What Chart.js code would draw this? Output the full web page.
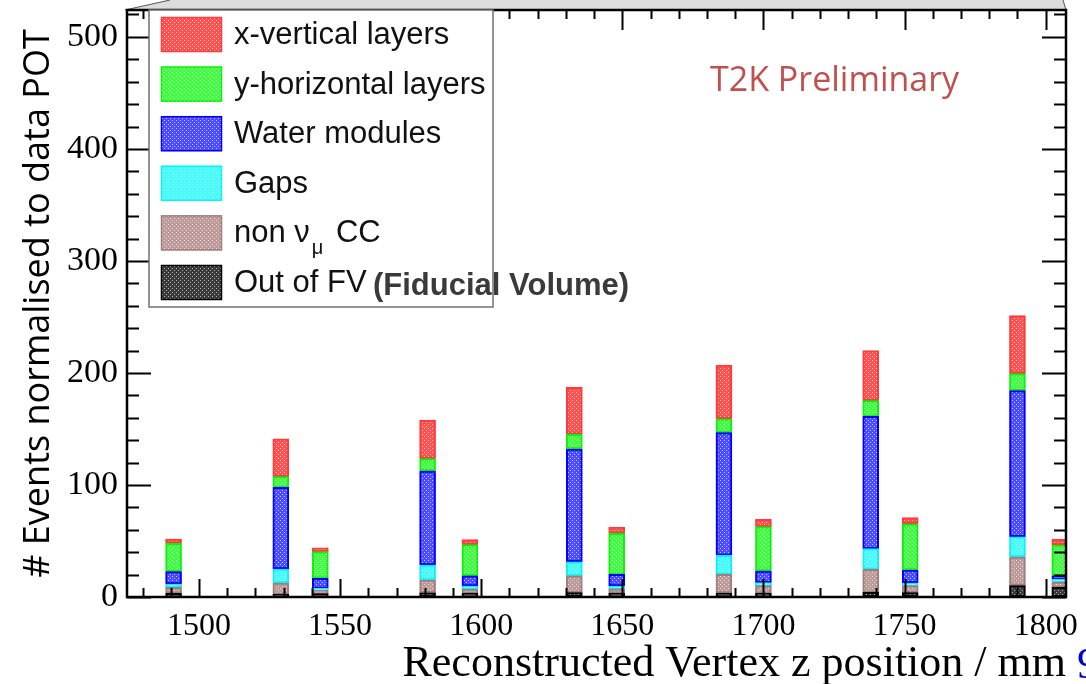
<!DOCTYPE html>
<html>
<head>
<meta charset="utf-8">
<script src="https://cdn.jsdelivr.net/npm/chart.js@4/dist/chart.umd.min.js"></script>
<style>
  html, body { margin: 0; padding: 0; background: #ffffff; }
  #wrap { width: 1086px; height: 684px; position: relative; }
</style>
</head>
<body>
<div id="wrap"><canvas id="c" width="1086" height="684"></canvas></div>
<script>
// Reconstructed vertex z position of each filled bin (mm)
const zPositions = [1491, 1529, 1543, 1581, 1596, 1633, 1648, 1686, 1700, 1738, 1752, 1790, 1805];

// Event counts per bin, one array per category (stacked bottom to top)
const outOfFV     = [3.2, 2.4, 3.0, 3.8, 3.3, 3.9, 3.3, 3.6, 3.3, 4.2, 3.9, 10.1, 8.6];
const nonNumuCC   = [5.4, 10.1, 3.0, 11.4, 3.8, 14.9, 4.1, 16.6, 6.8, 20.5, 6.2, 25.6, 4.8];
const gaps        = [3.0, 12.5, 1.7, 13.4, 2.7, 12.7, 2.4, 17.0, 2.7, 18.5, 2.4, 18.1, 2.4];
const waterMods   = [11.0, 72.9, 9.0, 83.9, 9.0, 100.6, 10.4, 109.5, 10.4, 118.1, 11.6, 130.4, 3.0];
const yHorizontal = [25.3, 9.5, 23.8, 11.0, 27.9, 13.1, 36.6, 12.3, 39.6, 14.0, 41.3, 15.2, 27.6];
const xVertical   = [3.9, 33.9, 3.5, 34.5, 4.5, 42.0, 5.7, 48.0, 6.5, 44.6, 5.4, 51.8, 5.1];

// Axis tick labels
const xTickLabels = [1500, 1550, 1600, 1650, 1700, 1750, 1800];
const yTickLabels = [0, 100, 200, 300, 400, 500];

// Dotted fill pattern like ROOT fill style
function dotPattern(base, dot) {
  const t = document.createElement('canvas');
  t.width = 4; t.height = 4;
  const g = t.getContext('2d');
  g.fillStyle = base; g.fillRect(0, 0, 4, 4);
  g.fillStyle = dot;
  g.fillRect(0, 0, 1, 1); g.fillRect(2, 2, 1, 1);
  return g.createPattern(t, 'repeat');
}

const series = [
  { label: 'Out of FV', values: outOfFV, base: '#3a3a3a', dot: '#b0b0b0', line: '#000000' },
  { label: 'non νμ CC', parts: ['non ν', 'μ', ' CC'], values: nonNumuCC, base: '#bc9a9a', dot: '#eadcdc', line: '#a07e7e' },
  { label: 'Gaps', values: gaps, base: '#40ffff', dot: '#d8ffff', line: '#10f0f0' },
  { label: 'Water modules', values: waterMods, base: '#4c4cff', dot: '#c8c8ff', line: '#0000ff' },
  { label: 'y-horizontal layers', values: yHorizontal, base: '#40ff40', dot: '#d0ffd0', line: '#10f010' },
  { label: 'x-vertical layers', values: xVertical, base: '#ff5050', dot: '#ffd8d8', line: '#ff3a3a' }
];

const datasets = series.map(s => ({
  label: s.label,
  parts: s.parts,
  data: zPositions.map((z, i) => ({ x: z, y: s.values[i] })),
  backgroundColor: dotPattern(s.base, s.dot),
  borderColor: s.line,
  borderWidth: 2,
  borderSkipped: false,
  barThickness: 16
}));

// Inward ROOT-style frame ticks, legend box and annotations
const frameDecor = {
  id: 'frameDecor',
  beforeDraw(chart) {
    const { ctx, chartArea: a } = chart;
    ctx.save();
    ctx.fillStyle = '#dcdcdc';
    ctx.beginPath();
    ctx.moveTo(a.left - 2, a.top);
    ctx.lineTo(a.left + 43, 0);
    ctx.lineTo(a.right - 3, 0);
    ctx.lineTo(a.right, a.top);
    ctx.closePath();
    ctx.fill();
    ctx.strokeStyle = '#555';
    ctx.lineWidth = 1;
    ctx.beginPath();
    ctx.moveTo(a.left - 2, a.top);
    ctx.lineTo(a.left + 43, 0);
    ctx.moveTo(a.right - 3, 0);
    ctx.lineTo(a.right, a.top);
    ctx.stroke();
    ctx.restore();
  },
  afterDatasetsDraw(chart) {
    const { ctx, chartArea: a, scales } = chart;
    const xs = scales.x, ys = scales.y;
    ctx.save();
    ctx.strokeStyle = '#000';
    ctx.lineWidth = 2;
    ctx.beginPath();
    for (let v = 0; v <= ys.max; v += 20) {
      const y = Math.round(ys.getPixelForValue(v)) + 0.5;
      const len = v % 100 === 0 ? 24 : 12;
      ctx.moveTo(a.left, y); ctx.lineTo(a.left + len, y);
      ctx.moveTo(a.right, y); ctx.lineTo(a.right - len, y);
    }
    for (let v = 1480; v <= xs.max; v += 10) {
      const x = Math.round(xs.getPixelForValue(v)) + 0.5;
      const len = v % 50 === 0 ? 18 : 9;
      ctx.moveTo(x, a.bottom); ctx.lineTo(x, a.bottom - len);
      ctx.moveTo(x, a.top); ctx.lineTo(x, a.top + (v % 50 === 0 ? 20 : 9));
    }
    ctx.stroke();
    ctx.lineWidth = 2.5;
    ctx.strokeRect(a.left, a.top, a.right - a.left, a.bottom - a.top);

    // Legend box
    const lx = a.left + 22, ly = a.top, lw = 344, lh = 297;
    ctx.fillStyle = '#ffffff';
    ctx.fillRect(lx, ly, lw, lh);
    ctx.strokeStyle = '#707070';
    ctx.lineWidth = 1.5;
    ctx.strokeRect(lx, ly, lw, lh);
    const items = chart.data.datasets.slice().reverse();
    items.forEach((ds, i) => {
      const sy = ly + 7 + i * 49.6;
      ctx.fillStyle = ds.backgroundColor;
      ctx.fillRect(lx + 12, sy, 61, 35);
      ctx.strokeStyle = ds.borderColor;
      ctx.lineWidth = 1.5;
      ctx.strokeRect(lx + 12.5, sy + 0.5, 60, 34);
      ctx.fillStyle = '#111';
      ctx.textBaseline = 'alphabetic';
      ctx.textAlign = 'left';
      const tx = lx + 85, ty = sy + 27;
      if (ds.parts) {
        ctx.font = '31px "Liberation Sans", Arial, sans-serif';
        ctx.fillText(ds.parts[0], tx, ty);
        let w = ctx.measureText(ds.parts[0]).width + 2;
        ctx.font = '20px "Liberation Sans", Arial, sans-serif';
        ctx.fillText(ds.parts[1], tx + w, ty + 12);
        w += ctx.measureText(ds.parts[1]).width + 4;
        ctx.font = '31px "Liberation Sans", Arial, sans-serif';
        ctx.fillText(ds.parts[2], tx + w, ty);
      } else {
        ctx.font = '31px "Liberation Sans", Arial, sans-serif';
        ctx.fillText(ds.label, tx, ty);
      }
    });

    // Annotations
    ctx.font = 'bold 31px "Liberation Sans", Arial, sans-serif';
    ctx.fillStyle = '#3a3a3a';
    ctx.fillText('(Fiducial Volume)', 373, 295);
    ctx.font = '34px "Open Sans", sans-serif';
    ctx.fillStyle = '#c0504d';
    ctx.fillText('T2K Preliminary', 710, 91);
    ctx.font = '44px "Liberation Serif", "Times New Roman", serif';
    ctx.fillStyle = '#0000cc';
    ctx.fillText('9', 1077, 678);
    ctx.restore();
  }
};

new Chart(document.getElementById('c'), {
  type: 'bar',
  data: { datasets },
  options: {
    responsive: false,
    animation: false,
    layout: { padding: { top: 10, right: 20, left: 0, bottom: 0 } },
    plugins: { legend: { display: false }, tooltip: { enabled: false } },
    scales: {
      x: {
        type: 'linear',
        stacked: true,
        offset: false,
        min: 1474.5,
        max: 1807.2,
        grid: { display: false, drawTicks: false, offset: false },
        border: { display: false },
        afterBuildTicks: s => { s.ticks = xTickLabels.map(v => ({ value: v })); },
        afterFit: s => { s.height = 87; s.paddingLeft = 0; s.paddingRight = 0; },
        ticks: {
          padding: 10,
          maxRotation: 0,
          autoSkip: false,
          color: '#000',
          font: { family: '"Liberation Serif", "Times New Roman", serif', size: 32 },
          callback: v => String(v)
        },
        title: {
          display: true,
          align: 'end',
          text: 'Reconstructed Vertex z position / mm',
          color: '#000',
          font: { family: '"Liberation Serif", "Times New Roman", serif', size: 44 },
          padding: { top: 0, bottom: -7 }
        }
      },
      y: {
        stacked: true,
        min: 0,
        max: 524,
        grid: { display: false, drawTicks: false },
        border: { display: false },
        afterBuildTicks: s => { s.ticks = yTickLabels.map(v => ({ value: v })); },
        afterFit: s => { s.width = 127; s.paddingTop = 0; s.paddingBottom = 0; },
        ticks: {
          padding: 9,
          color: '#000',
          font: { family: '"Liberation Serif", "Times New Roman", serif', size: 34 },
          callback: v => String(v)
        },
        title: {
          display: true,
          text: '# Events normalised to data POT',
          color: '#000',
          font: { family: '"Open Sans", sans-serif', size: 36 },
          padding: { top: 17, bottom: 0 }
        }
      }
    }
  },
  plugins: [frameDecor]
});
</script>
</body>
</html>
